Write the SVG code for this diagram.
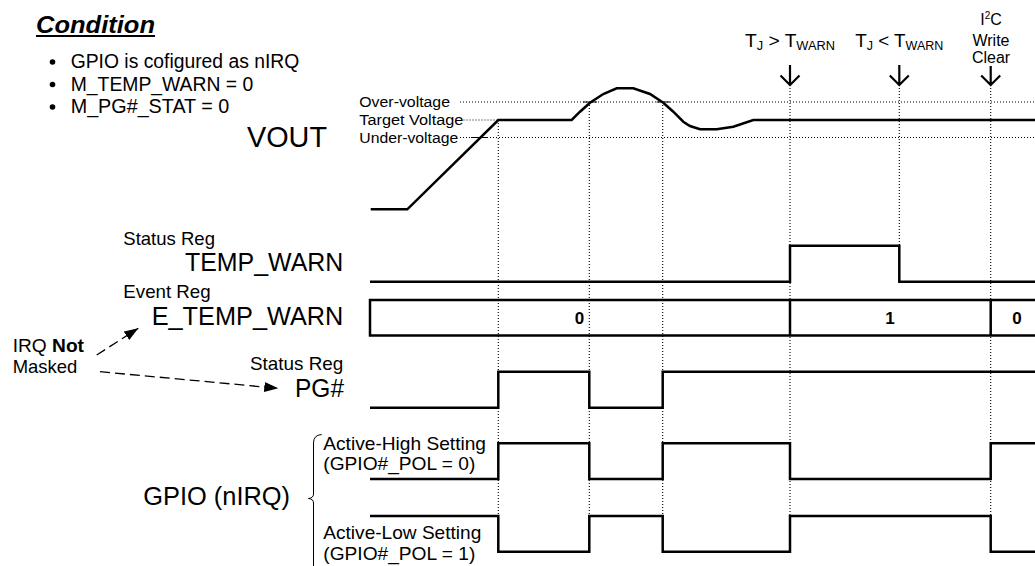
<svg xmlns="http://www.w3.org/2000/svg" width="1035" height="566" viewBox="0 0 1035 566">
<defs>
<style>
text{font-family:"Liberation Sans",Arial,sans-serif;fill:#000}
.sig{fill:none;stroke:#000;stroke-width:2.5;stroke-linejoin:miter}
.dot{fill:none;stroke:#000;stroke-width:1.1;stroke-dasharray:1 2}
.tick{stroke:#000;stroke-width:1}
.dash{fill:none;stroke:#000;stroke-width:1.3;stroke-dasharray:10 5}
.arr{fill:none;stroke:#000;stroke-width:2.2}
.s18{font-size:18.5px}
.s14{font-size:14px}
.s25{font-size:25px}
.s19{font-size:19px}
</style>
<marker id="tri" viewBox="0 0 14 10" markerUnits="userSpaceOnUse" markerWidth="14" markerHeight="10" refX="14" refY="5" orient="auto">
<path d="M0,0 L14,5 L0,10 z" fill="#000"/>
</marker>
</defs>
<rect width="1035" height="566" fill="#fff"/>

<g id="condition">
<text x="36" y="33" font-size="24" font-weight="bold" font-style="italic" textLength="119" lengthAdjust="spacingAndGlyphs">Condition</text>
<line x1="36" y1="36" x2="155" y2="36" stroke="#000" stroke-width="2"/>
<circle cx="52.5" cy="62" r="2.8"/>
<circle cx="52.5" cy="84.5" r="2.8"/>
<circle cx="52.5" cy="107" r="2.8"/>
<text x="70.7" y="68" font-size="19.5" textLength="228.6" lengthAdjust="spacingAndGlyphs">GPIO is cofigured as nIRQ</text>
<text x="70.7" y="90.5" font-size="19.5" textLength="182.6" lengthAdjust="spacingAndGlyphs">M_TEMP_WARN = 0</text>
<text x="70.7" y="113" font-size="19.5" textLength="158.6" lengthAdjust="spacingAndGlyphs">M_PG#_STAT = 0</text>
</g>

<g id="grid">
<line class="dot" x1="460" y1="102" x2="1035" y2="102"/>
<line class="dot" x1="463.5" y1="120" x2="498" y2="120"/>
<line class="dot" x1="460" y1="137.5" x2="1035" y2="137.5"/>
<line class="dot" x1="498.3" y1="120" x2="498.3" y2="516"/>
<line class="dot" x1="589.3" y1="102" x2="589.3" y2="516"/>
<line class="dot" x1="662.7" y1="102" x2="662.7" y2="516"/>
<line class="dot" x1="790" y1="85" x2="790" y2="516"/>
<line class="dot" x1="899.3" y1="85" x2="899.3" y2="245.7"/>
<line class="dot" x1="990.7" y1="85" x2="990.7" y2="516"/>
</g>

<g id="vout">
<text x="247" y="147" font-size="29" textLength="80" lengthAdjust="spacingAndGlyphs">VOUT</text>
<text class="s14" x="359.3" y="106.7" textLength="90.7" lengthAdjust="spacingAndGlyphs">Over-voltage</text>
<text class="s14" x="359.3" y="125" textLength="104" lengthAdjust="spacingAndGlyphs">Target Voltage</text>
<text class="s14" x="359.3" y="143.3" textLength="99" lengthAdjust="spacingAndGlyphs">Under-voltage</text>
<polyline class="sig" points="370.7,209.3 407.3,209.3 498.3,120 571.7,120 580,111.7 590,102.7 603.3,94 616.7,88.3 633.3,88.3 650,94 663.3,102.7 673.3,111.7 683.3,121.7 690,126 700,129.3 716.7,129.3 733.3,126.7 753.3,120 1035,120"/>
<line class="tick" x1="471" y1="137.5" x2="488" y2="137.5"/>
<line class="tick" x1="583" y1="102" x2="597" y2="102"/>
<line class="tick" x1="656.5" y1="102" x2="670" y2="102"/>
</g>

<g id="events">
<text x="790" y="46.7" font-size="18" text-anchor="middle" textLength="90" lengthAdjust="spacingAndGlyphs">T<tspan font-size="12" dy="3">J</tspan><tspan dy="-3"> &gt; T</tspan><tspan font-size="12" dy="3">WARN</tspan></text>
<text x="899.3" y="46.7" font-size="18" text-anchor="middle" textLength="88" lengthAdjust="spacingAndGlyphs">T<tspan font-size="12" dy="3">J</tspan><tspan dy="-3"> &lt; T</tspan><tspan font-size="12" dy="3">WARN</tspan></text>
<text x="991" y="25" font-size="16" text-anchor="middle">I<tspan font-size="10" dy="-6">2</tspan><tspan dy="6">C</tspan></text>
<text x="991" y="46" font-size="16" text-anchor="middle">Write</text>
<text x="991" y="62.5" font-size="16" text-anchor="middle">Clear</text>
</g>

<g id="temp_warn">
<text class="s18" x="123.3" y="245" textLength="91.7" lengthAdjust="spacingAndGlyphs">Status Reg</text>
<text class="s25" x="185" y="270.7" textLength="158.3" lengthAdjust="spacingAndGlyphs">TEMP_WARN</text>
<path class="sig" d="M370,281.7 H790 V245.7 H899.3 V281.7 H1035"/>
</g>

<g id="e_temp_warn">
<text class="s18" x="123.3" y="298.3" textLength="87.4" lengthAdjust="spacingAndGlyphs">Event Reg</text>
<text class="s25" x="151.7" y="325" textLength="191.6" lengthAdjust="spacingAndGlyphs">E_TEMP_WARN</text>
<path class="sig" d="M1040,300 H370 V335.5 H1040 M790,300 V335.5 M990.7,300 V335.5"/>
<text x="579.4" y="324" font-size="17" font-weight="bold" text-anchor="middle">0</text>
<text x="889.9" y="324" font-size="17" font-weight="bold" text-anchor="middle">1</text>
<text x="1017" y="324" font-size="17" font-weight="bold" text-anchor="middle">0</text>
</g>

<g id="irq_note">
<text class="s18" x="12.7" y="351.7" textLength="71.3" lengthAdjust="spacingAndGlyphs">IRQ <tspan font-weight="bold">Not</tspan></text>
<text class="s18" x="12.7" y="373" textLength="64.6" lengthAdjust="spacingAndGlyphs">Masked</text>
</g>

<g id="pg">
<text class="s18" x="343.3" y="369.5" text-anchor="end" textLength="93.3" lengthAdjust="spacingAndGlyphs">Status Reg</text>
<text class="s25" x="295" y="397" textLength="49" lengthAdjust="spacingAndGlyphs">PG#</text>
<path class="sig" d="M370,407.7 H498.3 V371.7 H589.3 V407.7 H662.7 V371.7 H1035"/>
</g>

<g id="gpio">
<text class="s25" x="143.3" y="505" textLength="146.7" lengthAdjust="spacingAndGlyphs">GPIO (nIRQ)</text>
<path d="M321.7,434.5 Q313.5,435 313.5,443 L313.5,494 Q313.5,498 308.5,498.5 Q313.5,499 313.5,503 L313.5,570" fill="none" stroke="#000" stroke-width="1"/>
<text class="s19" x="323.3" y="450" textLength="162.7" lengthAdjust="spacingAndGlyphs">Active-High Setting</text>
<text class="s19" x="323.3" y="469.5" textLength="152" lengthAdjust="spacingAndGlyphs">(GPIO#_POL = 0)</text>
<text class="s19" x="323.3" y="539" textLength="158" lengthAdjust="spacingAndGlyphs">Active-Low Setting</text>
<text class="s19" x="323.3" y="559.5" textLength="152" lengthAdjust="spacingAndGlyphs">(GPIO#_POL = 1)</text>
<path class="sig" d="M370,479 H498.3 V443.3 H589.3 V479 H662.7 V443.3 H790 V479 H990.7 V443.3 H1035"/>
<path class="sig" d="M370,516 H498.3 V551.7 H589.3 V516 H662.7 V551.7 H790 V516 H990.7 V551.7 H1035"/>
</g>

<g id="connectors">
<line class="dash" x1="96.7" y1="355" x2="138.3" y2="328.3" marker-end="url(#tri)"/>
<line class="dash" x1="100" y1="371.7" x2="278.3" y2="388.3" marker-end="url(#tri)"/>
<path class="arr" d="M790,65 V85 M780.5,75.5 L790,85 L799.5,75.5"/>
<path class="arr" d="M899.3,65 V85 M889.8,75.5 L899.3,85 L908.8,75.5"/>
<path class="arr" d="M990.7,66 V85 M981.2,75.5 L990.7,85 L1000.2,75.5"/>
</g>
</svg>
